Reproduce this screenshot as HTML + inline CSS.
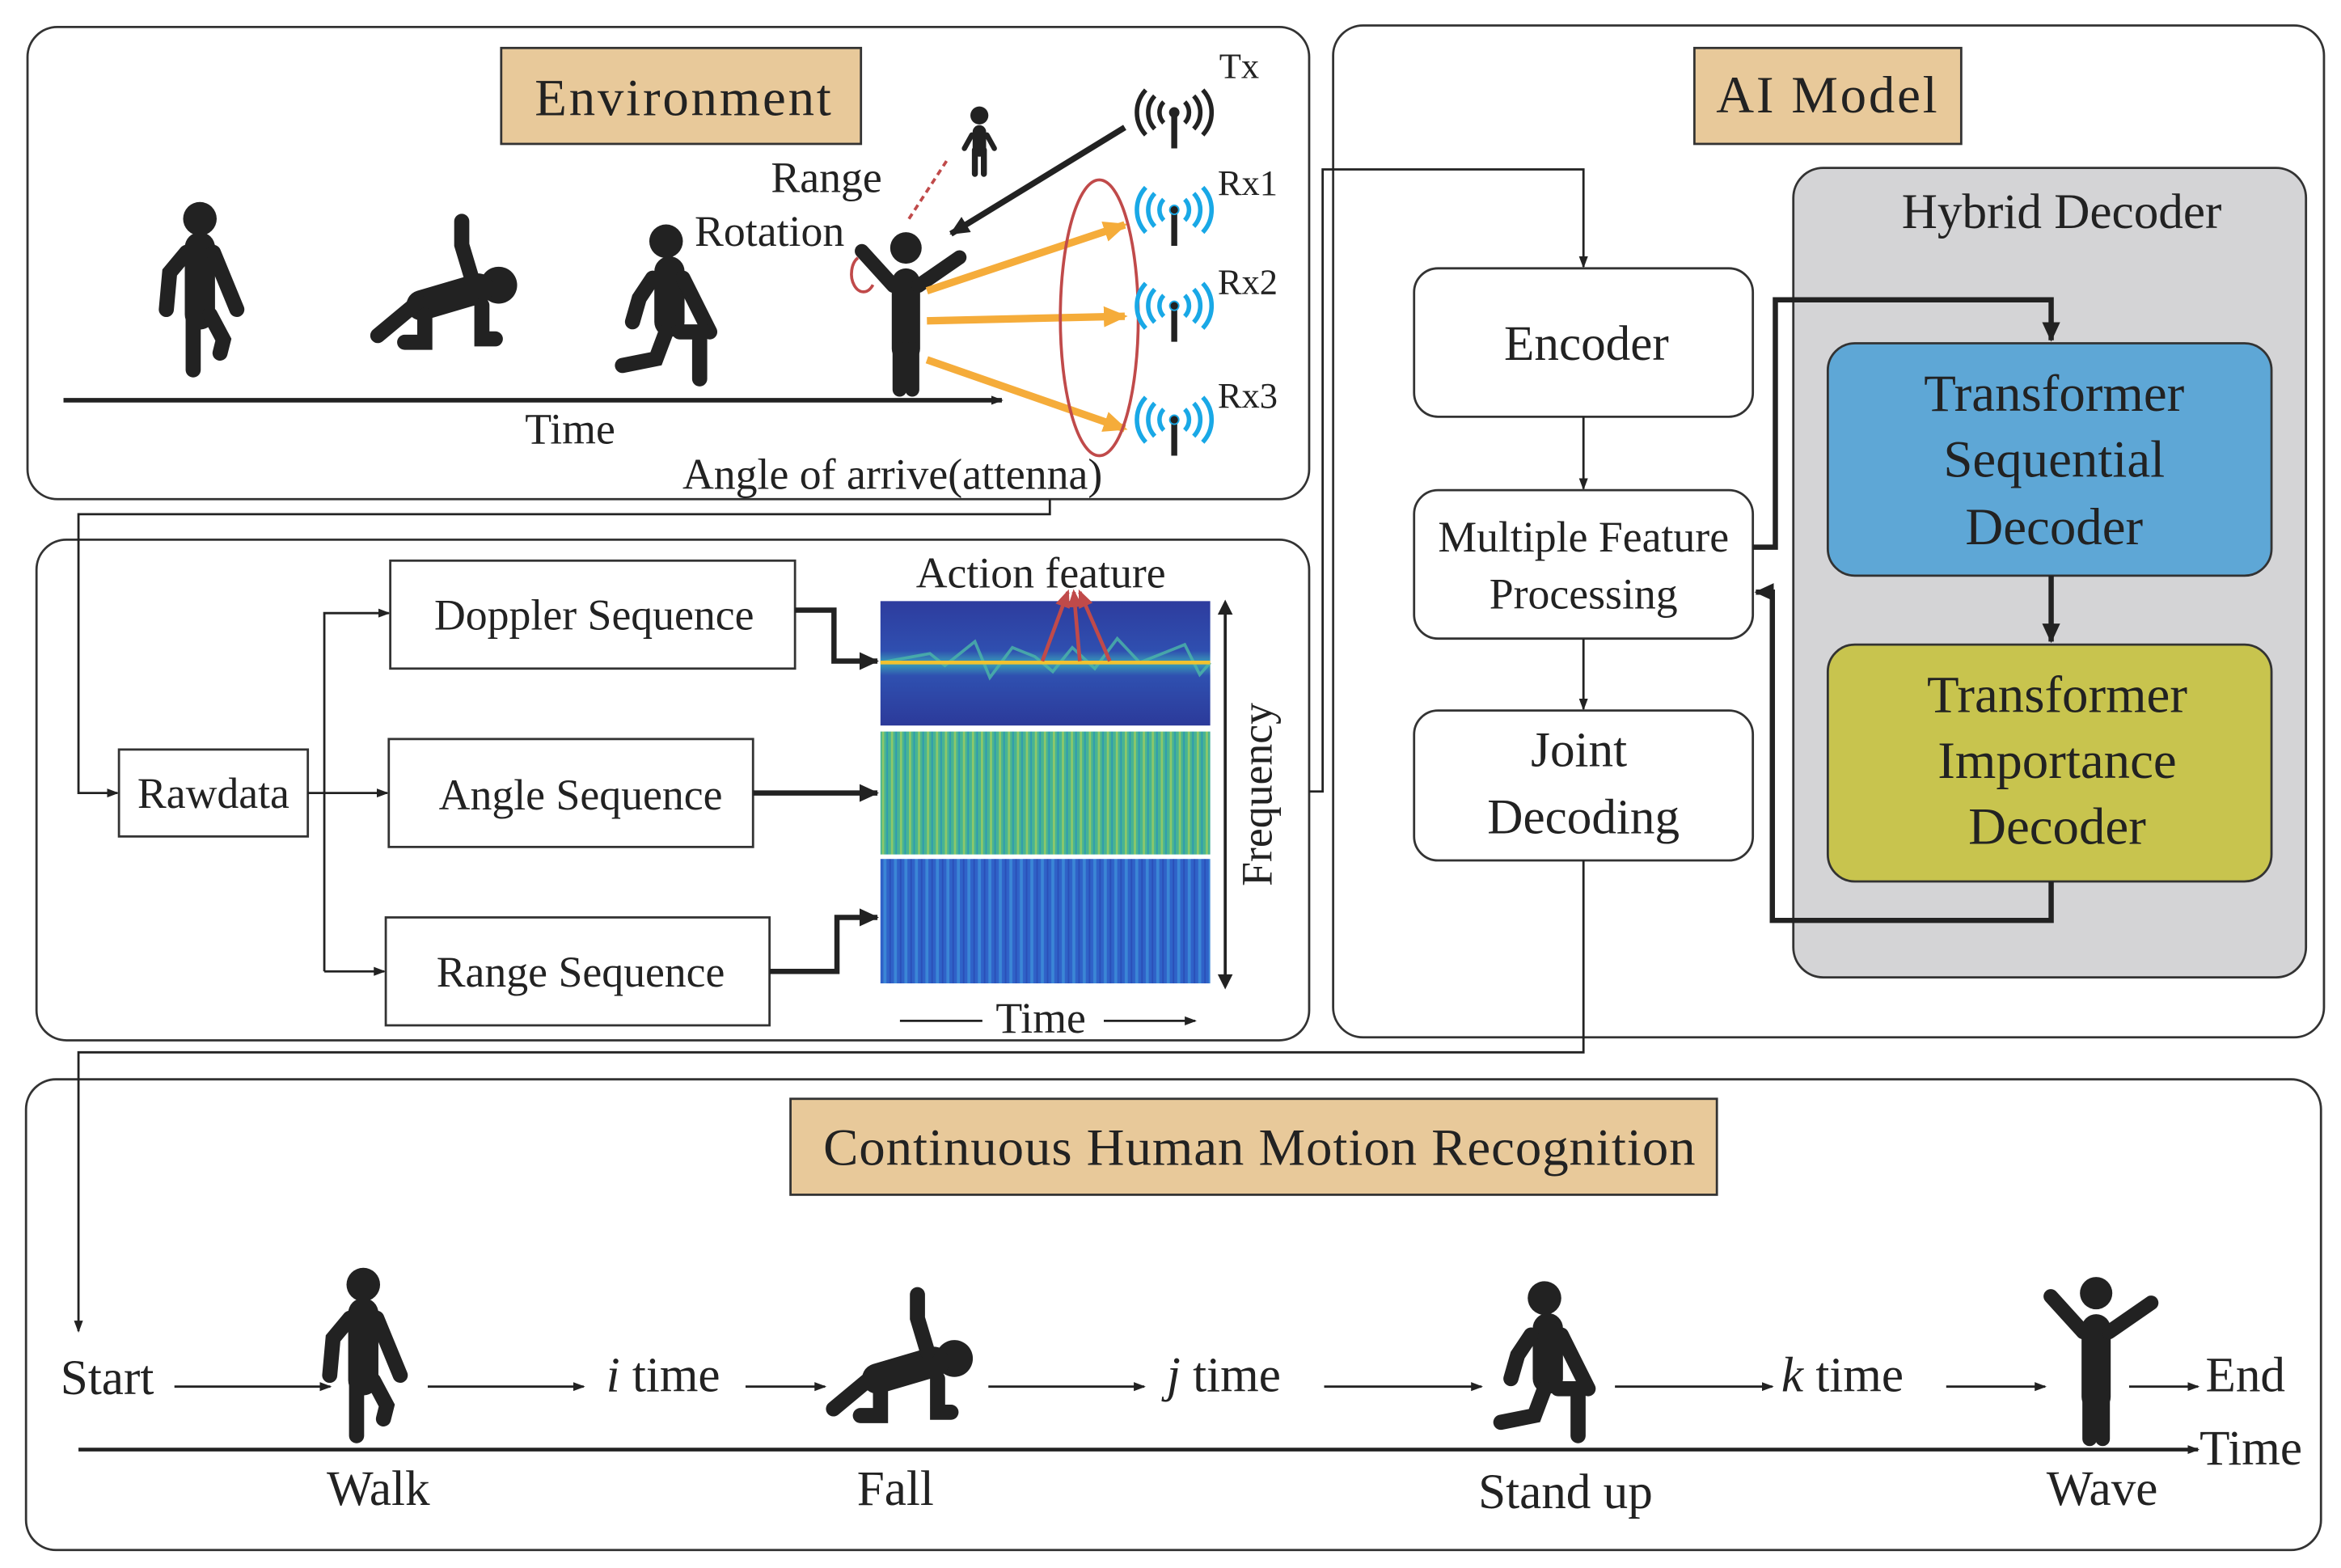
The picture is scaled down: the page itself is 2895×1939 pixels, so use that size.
<!DOCTYPE html>
<html><head><meta charset="utf-8"><style>
html,body{margin:0;padding:0;background:#fff}
svg{display:block}
text{font-family:"Liberation Serif",serif;fill:#222}
</style></head><body>
<svg width="2895" height="1939" viewBox="0 0 1561 1046" xmlns="http://www.w3.org/2000/svg">
<defs>
<marker id="a" markerWidth="8" markerHeight="8" refX="7" refY="4" orient="auto" markerUnits="userSpaceOnUse"><path d="M0,1 L8,4 L0,7 Z" fill="#222"/></marker>
<marker id="ab" markerWidth="14" markerHeight="14" refX="12" refY="7" orient="auto" markerUnits="userSpaceOnUse"><path d="M0,1 L13,7 L0,13 Z" fill="#222"/></marker>
<marker id="ao" markerWidth="16" markerHeight="14" refX="14" refY="7" orient="auto" markerUnits="userSpaceOnUse"><path d="M0,0 L16,7 L0,14 Z" fill="#f5ac3a"/></marker>
<marker id="ar" markerWidth="12" markerHeight="10" refX="10" refY="5" orient="auto" markerUnits="userSpaceOnUse"><path d="M0,0 L12,5 L0,10 Z" fill="#c04a4a"/></marker>
<pattern id="pa" width="6" height="10" patternUnits="userSpaceOnUse"><rect width="6" height="10" fill="#48b492"/><rect x="0" width="1.5" height="10" fill="#8cc86a"/><rect x="3" width="1" height="10" fill="#2f9ab0"/></pattern>
<pattern id="pr" width="7" height="10" patternUnits="userSpaceOnUse"><rect width="7" height="10" fill="#2f62c8"/><rect x="1" width="2" height="10" fill="#3b86d6"/><rect x="5" width="1" height="10" fill="#2a4fb8"/></pattern>
<linearGradient id="gd" x1="0" y1="0" x2="0" y2="1"><stop offset="0" stop-color="#2e3c9e"/><stop offset="0.4" stop-color="#2f4fb0"/><stop offset="0.5" stop-color="#3aa0b8"/><stop offset="0.6" stop-color="#2f50b0"/><stop offset="1" stop-color="#2c3a9a"/></linearGradient>
<g id="ant"><path d="M0,-10 v24" stroke="#222" stroke-width="4"/><circle cx="0" cy="-10" r="3" fill="#222"/><path d="M-7,-17 a10,10 0 0 0 0,14 M7,-17 a10,10 0 0 1 0,14 M-13,-21 a16,16 0 0 0 0,22 M13,-21 a16,16 0 0 1 0,22 M-19,-25 a22,22 0 0 0 0,30 M19,-25 a22,22 0 0 1 0,30" fill="none" stroke-width="3"/></g>
<g id="walk" stroke="#222" stroke-linecap="round" fill="none"><circle cx="0" cy="-92" r="10" fill="#222" stroke="none"/><path d="M0,-75 v40" stroke-width="18"/><path d="M-8,-72 L-18,-60 L-20,-38" stroke-width="9"/><path d="M8,-72 L22,-38" stroke-width="9"/><path d="M-4,-35 V-2" stroke-width="9"/><path d="M6,-35 L14,-20 L12,-12" stroke-width="9"/></g>
<g id="fall" stroke="#222" stroke-linecap="round" fill="none"><circle cx="36" cy="-48" r="11" fill="#222" stroke="none"/><path d="M-10,-36 L24,-46" stroke-width="18"/><path d="M20,-52 L14,-72 L14,-86" stroke-width="9"/><path d="M-12,-38 L-36,-18" stroke-width="9"/><path d="M-8,-30 L-8,-14 L-20,-14" stroke-width="9"/><path d="M26,-36 L26,-16 L34,-16" stroke-width="9"/></g>
<g id="stand" stroke="#222" stroke-linecap="round" fill="none"><circle cx="0" cy="-84" r="10" fill="#222" stroke="none"/><path d="M2,-66 v30" stroke-width="18"/><path d="M-8,-62 L-16,-50 L-20,-36" stroke-width="9"/><path d="M10,-62 L26,-30" stroke-width="9"/><path d="M0,-30 L-6,-14 L-26,-10" stroke-width="9"/><path d="M8,-30 L20,-30 L20,-2" stroke-width="9"/></g>
<g id="wave" stroke="#222" stroke-linecap="round" fill="none"><circle cx="0" cy="-92" r="10" fill="#222" stroke="none"/><path d="M0,-70 v42" stroke-width="18"/><path d="M-8,-68 L-28,-90" stroke-width="9"/><path d="M8,-68 L34,-86" stroke-width="9"/><path d="M-4,-28 V-2" stroke-width="9"/><path d="M4,-28 V-2" stroke-width="9"/></g>
</defs>

<rect x="18" y="18" width="855" height="315" rx="20" fill="none" stroke="#333" stroke-width="1.5"/>
<rect x="24" y="360" width="849" height="334" rx="20" fill="none" stroke="#333" stroke-width="1.5"/>
<rect x="889" y="17" width="661" height="675" rx="20" fill="none" stroke="#333" stroke-width="1.5"/>
<rect x="17" y="720" width="1531" height="314" rx="20" fill="none" stroke="#333" stroke-width="1.5"/>

<rect x="334" y="32" width="240" height="64" fill="#e8c99a" stroke="#333" stroke-width="1.5"/>
<text x="456" y="77" font-size="35" text-anchor="middle" letter-spacing="1.5">Environment</text>
<use href="#walk" transform="translate(133,249) scale(1.12)"/>
<use href="#fall" transform="translate(292,244) scale(1.12)"/>
<use href="#stand" transform="translate(444,255) scale(1.12)"/>
<use href="#wave" transform="translate(604,262) scale(1.05)"/>
<g stroke="#222" stroke-linecap="round" fill="none"><circle cx="653" cy="77" r="6" fill="#222" stroke="none"/><path d="M653,88 v12" stroke-width="9"/><path d="M648,90 l-5,9 M658,90 l5,9" stroke-width="3.5"/><path d="M650,100 v16 M656,100 v16" stroke-width="4"/></g>
<path d="M42,267 H668" stroke="#222" stroke-width="3" marker-end="url(#a)"/>
<text x="380" y="296" font-size="29" text-anchor="middle">Time</text>
<text x="551" y="128" font-size="29" text-anchor="middle">Range</text>
<text x="513" y="164" font-size="29" text-anchor="middle">Rotation</text>
<path d="M606,146 L632,106" stroke="#c04a4a" stroke-width="2" stroke-dasharray="4,3"/>
<path d="M572,172 a8,12 0 1 0 10,18" stroke="#c04a4a" stroke-width="2" fill="none"/>
<path d="M750,85 L634,156" stroke="#222" stroke-width="4" marker-end="url(#ab)"/>
<g stroke="#f5ac3a" stroke-width="5"><path d="M618,194 L750,150" marker-end="url(#ao)"/><path d="M618,214 L750,211" marker-end="url(#ao)"/><path d="M618,240 L750,286" marker-end="url(#ao)"/></g>
<ellipse cx="733" cy="212" rx="26" ry="92" fill="none" stroke="#c04a4a" stroke-width="2"/>
<use href="#ant" x="783" y="85" stroke="#222"/>
<use href="#ant" x="783" y="150" stroke="#19a8e6"/>
<use href="#ant" x="783" y="214" stroke="#19a8e6"/>
<use href="#ant" x="783" y="290" stroke="#19a8e6"/>
<text x="813" y="52" font-size="24">Tx</text>
<text x="812" y="130" font-size="24">Rx1</text>
<text x="812" y="196" font-size="24">Rx2</text>
<text x="812" y="272" font-size="24">Rx3</text>
<text x="595" y="326" font-size="29" text-anchor="middle">Angle of arrive(attenna)</text>

<path d="M700,333 V343 H52 V529 H78" stroke="#222" stroke-width="1.5" fill="none" marker-end="url(#a)"/>
<rect x="79" y="500" width="126" height="58" fill="#fff" stroke="#333" stroke-width="1.5"/>
<text x="142" y="539" font-size="29" text-anchor="middle">Rawdata</text>
<path d="M205,529 H258" stroke="#222" stroke-width="1.5" marker-end="url(#a)"/>
<path d="M216,648 V409 H259" stroke="#222" stroke-width="1.5" fill="none" marker-end="url(#a)"/>
<path d="M216,648 H256" stroke="#222" stroke-width="1.5" marker-end="url(#a)"/>
<rect x="260" y="374" width="270" height="72" fill="#fff" stroke="#333" stroke-width="1.5"/>
<text x="396" y="420" font-size="29" text-anchor="middle">Doppler Sequence</text>
<rect x="259" y="493" width="243" height="72" fill="#fff" stroke="#333" stroke-width="1.5"/>
<text x="387" y="540" font-size="29" text-anchor="middle">Angle Sequence</text>
<rect x="257" y="612" width="256" height="72" fill="#fff" stroke="#333" stroke-width="1.5"/>
<text x="387" y="658" font-size="29" text-anchor="middle">Range Sequence</text>
<g stroke="#222" stroke-width="3.5" fill="none">
<path d="M530,407 H556 V441 H585" marker-end="url(#ab)"/>
<path d="M502,529 H585" marker-end="url(#ab)"/>
<path d="M513,648 H558 V612 H585" marker-end="url(#ab)"/>
</g>
<rect x="587" y="401" width="220" height="83" fill="url(#gd)"/>
<path d="M587,442 L620,436 L630,444 L650,428 L660,452 L675,432 L690,438 L702,448 L715,432 L730,446 L745,426 L760,442 L790,430 L800,450 L807,442" stroke="#4cb8a8" stroke-width="2" fill="none" opacity="0.8"/>
<path d="M587,442 H807" stroke="#f2c230" stroke-width="2.5"/>
<rect x="587" y="488" width="220" height="82" fill="url(#pa)"/>
<rect x="587" y="573" width="220" height="83" fill="url(#pr)"/>
<g stroke="#c04a4a" stroke-width="2.5"><path d="M695,441 L712,395" marker-end="url(#ar)"/><path d="M720,441 L716,395" marker-end="url(#ar)"/><path d="M740,441 L720,395" marker-end="url(#ar)"/></g>
<text x="694" y="392" font-size="29" text-anchor="middle">Action feature</text>
<path d="M817,406 V654" stroke="#222" stroke-width="2"/>
<path d="M817,400 L812,410 L822,410 Z M817,660 L812,650 L822,650 Z" fill="#222"/>
<text transform="translate(848,530) rotate(-90)" font-size="29" text-anchor="middle">Frequency</text>
<text x="694" y="689" font-size="29" text-anchor="middle">Time</text>
<path d="M600,681 H655" stroke="#222" stroke-width="1.5"/>
<path d="M736,681 H797" stroke="#222" stroke-width="1.5" marker-end="url(#a)"/>

<rect x="1130" y="32" width="178" height="64" fill="#e8c99a" stroke="#333" stroke-width="1.5"/>
<text x="1219" y="75" font-size="35" text-anchor="middle" letter-spacing="1.5">AI Model</text>
<path d="M873,528 H882 V113 H1056 V178" stroke="#222" stroke-width="1.5" fill="none" marker-end="url(#a)"/>
<rect x="943" y="179" width="226" height="99" rx="16" fill="#fff" stroke="#333" stroke-width="1.5"/>
<text x="1058" y="240" font-size="33" text-anchor="middle">Encoder</text>
<path d="M1056,278 V326" stroke="#222" stroke-width="1.5" marker-end="url(#a)"/>
<rect x="943" y="327" width="226" height="99" rx="16" fill="#fff" stroke="#333" stroke-width="1.5"/>
<text x="1056" y="368" font-size="29" text-anchor="middle">Multiple Feature</text>
<text x="1056" y="406" font-size="29" text-anchor="middle">Processing</text>
<path d="M1056,426 V473" stroke="#222" stroke-width="1.5" marker-end="url(#a)"/>
<rect x="943" y="474" width="226" height="100" rx="16" fill="#fff" stroke="#333" stroke-width="1.5"/>
<text x="1053" y="511" font-size="33" text-anchor="middle">Joint</text>
<text x="1056" y="556" font-size="33" text-anchor="middle">Decoding</text>
<rect x="1196" y="112" width="342" height="540" rx="20" fill="#d4d4d6" stroke="#333" stroke-width="1.5"/>
<text x="1375" y="152" font-size="33" text-anchor="middle">Hybrid Decoder</text>
<rect x="1219" y="229" width="296" height="155" rx="18" fill="#5ea7d6" stroke="#333" stroke-width="1.5"/>
<text x="1370" y="274" font-size="35" text-anchor="middle">Transformer</text>
<text x="1370" y="318" font-size="35" text-anchor="middle">Sequential</text>
<text x="1370" y="363" font-size="35" text-anchor="middle">Decoder</text>
<rect x="1219" y="430" width="296" height="158" rx="18" fill="#c8c44e" stroke="#333" stroke-width="1.5"/>
<text x="1372" y="475" font-size="35" text-anchor="middle">Transformer</text>
<text x="1372" y="519" font-size="35" text-anchor="middle">Importance</text>
<text x="1372" y="563" font-size="35" text-anchor="middle">Decoder</text>
<g stroke="#222" stroke-width="3.5" fill="none">
<path d="M1169,365 H1184 V200 H1368 V227" marker-end="url(#ab)"/>
<path d="M1368,384 V428" marker-end="url(#ab)"/>
<path d="M1368,588 V614 H1182 V395 H1171" marker-end="url(#ab)"/>
</g>
<path d="M1056,574 V702 H52 V888" stroke="#222" stroke-width="1.5" fill="none" marker-end="url(#a)"/>

<rect x="527" y="733" width="618" height="64" fill="#e8c99a" stroke="#333" stroke-width="1.5"/>
<text x="840" y="777" font-size="35" text-anchor="middle" letter-spacing="0.5">Continuous Human Motion Recognition</text>
<path d="M52,967 H1466" stroke="#222" stroke-width="2.5" marker-end="url(#a)"/>
<use href="#walk" transform="translate(242,960) scale(1.12)"/>
<use href="#fall" transform="translate(596,960) scale(1.12)"/>
<use href="#stand" transform="translate(1030,960) scale(1.12)"/>
<use href="#wave" transform="translate(1398,962) scale(1.08)"/>
<g font-size="33">
<text x="40" y="930">Start</text>
<text x="404" y="928"><tspan font-style="italic">i</tspan> time</text>
<text x="778" y="928"><tspan font-style="italic">j</tspan> time</text>
<text x="1188" y="928"><tspan font-style="italic">k</tspan> time</text>
<text x="1471" y="928">End</text>
<text x="1467" y="977">Time</text>
<text x="252" y="1004" text-anchor="middle">Walk</text>
<text x="597" y="1004" text-anchor="middle">Fall</text>
<text x="1044" y="1006" text-anchor="middle">Stand up</text>
<text x="1402" y="1004" text-anchor="middle">Wave</text>
</g>
<g stroke="#222" stroke-width="1.5">
<path d="M116,925 H220" marker-end="url(#a)"/>
<path d="M285,925 H389" marker-end="url(#a)"/>
<path d="M497,925 H550" marker-end="url(#a)"/>
<path d="M659,925 H763" marker-end="url(#a)"/>
<path d="M883,925 H988" marker-end="url(#a)"/>
<path d="M1077,925 H1182" marker-end="url(#a)"/>
<path d="M1298,925 H1364" marker-end="url(#a)"/>
<path d="M1420,925 H1466" marker-end="url(#a)"/>
</g>
</svg>
</body></html>
